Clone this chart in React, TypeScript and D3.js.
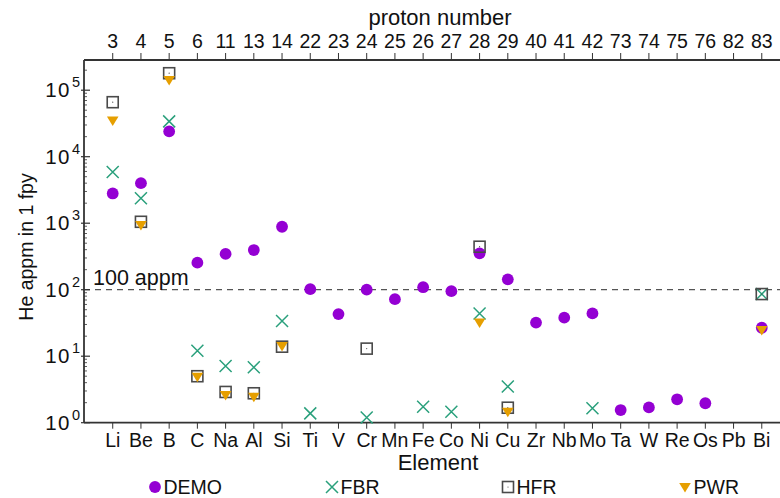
import React from "react";
import * as d3 from "d3";

const elements = ["Li","Be","B","C","Na","Al","Si","Ti","V","Cr","Mn","Fe","Co","Ni","Cu","Zr","Nb","Mo","Ta","W","Re","Os","Pb","Bi"];
const protonNumbers = ["3","4","5","6","11","13","14","22","23","24","25","26","27","28","29","40","41","42","73","74","75","76","82","83"];
const demo: (number | null)[] = [2800,4000,24000,255,345,395,885,102,43,100,72,109,95,352,143,32,38,44,1.55,1.7,2.25,1.96,null,26.8];
const fbr: (number | null)[] = [5900,2370,34000,12.1,7.1,6.8,33.8,1.38,null,1.2,null,1.74,1.46,44,3.5,null,null,1.65,null,null,null,null,null,86];
const hfr: (number | null)[] = [66000,1050,180000,5.0,2.9,2.77,13.9,null,null,13,null,null,null,443,1.68,null,null,null,null,null,null,null,null,86];
const pwr: (number | null)[] = [35000,940,142000,4.9,2.6,2.46,14.2,null,null,null,null,null,null,32,1.46,null,null,null,null,null,null,null,null,24.8];
const yDecades = [0,1,2,3,4,5];
const refValue = 100;
const legendNames = ["DEMO","FBR","HFR","PWR"];

const W = 780, H = 498;
const left = 84, top = 60, bottom = 422.7, right = 790;
const FONT = "'Liberation Sans', Arial, Helvetica, sans-serif";
const C_DEMO = "#9400D3", C_FBR = "#2AA07C", C_HFR = "#4a4a4a", C_PWR = "#E69F00";
const AX = "#333";

export default function App() {
  const x = d3.scaleLinear().domain([-1, elements.length]).range([left + 0.5, right]);
  const y = d3.scaleLog().domain([1, Math.pow(10, (bottom - top) / 66.5)]).range([bottom, top]);

  const minor: number[] = [];
  for (let d = 0; d < 6; d++) for (let k = 2; k <= 9; k++) {
    const v = k * Math.pow(10, d);
    if (y(v) >= top) minor.push(v);
  }

  const circle = (cx: number, cy: number, key: string) => <circle key={key} cx={cx} cy={cy} r={5.9} fill={C_DEMO} />;
  const cross = (cx: number, cy: number, key: string) => (
    <path key={key} d={`M${cx-6},${cy-6}L${cx+6},${cy+6}M${cx-6},${cy+6}L${cx+6},${cy-6}`} stroke={C_FBR} strokeWidth={1.5} fill="none" />
  );
  const square = (cx: number, cy: number, key: string) => (
    <g key={key}>
      <rect x={cx-5.5} y={cy-5.5} width={11} height={11} fill="none" stroke={C_HFR} strokeWidth={1.6} />
      <circle cx={cx} cy={cy} r={0.6} fill={C_HFR} />
    </g>
  );
  const tri = (cx: number, cy: number, key: string) => (
    <path key={key} d={`M${cx-5.8},${cy-4}L${cx+5.8},${cy-4}L${cx},${cy+5.5}Z`} fill={C_PWR} />
  );

  const series: [(number | null)[], (cx: number, cy: number, k: string) => React.ReactNode, string][] = [
    [demo, circle, "d"], [fbr, cross, "f"], [hfr, square, "h"], [pwr, tri, "p"],
  ];

  const legendX = [155, 332, 508, 685];
  const legendMarks = [circle, cross, square, tri];

  return (
    <svg width={W} height={H} style={{ position: "absolute", left: 0, top: 0, background: "#fff" }} fontFamily={FONT}>
      {/* reference line */}
      <line x1={left} x2={W} y1={y(refValue)} y2={y(refValue)} stroke="#555" strokeWidth={1.2} strokeDasharray="6,5" />
      <text x={93} y={y(refValue) - 5} fontSize={21.5} fill="#111">100 appm</text>

      {/* left axis */}
      <line x1={left} x2={left} y1={top} y2={bottom} stroke={AX} strokeWidth={1.8} />
      {yDecades.map(d => (
        <g key={"yt" + d}>
          <line x1={left - 3} x2={left + 6} y1={y(Math.pow(10, d))} y2={y(Math.pow(10, d))} stroke={AX} strokeWidth={1.2} />
          <text x={71} y={y(Math.pow(10, d)) + 7} fontSize={20.5} textAnchor="end" fill="#111" letterSpacing={1.5}>10</text>
          <text x={72} y={y(Math.pow(10, d)) - 3} fontSize={14.5} fill="#111">{d}</text>
        </g>
      ))}
      {minor.map((v, i) => (
        <line key={"ym" + i} x1={left} x2={left + 3} y1={y(v)} y2={y(v)} stroke={AX} strokeWidth={0.8} />
      ))}

      {/* bottom axis */}
      <line x1={left} x2={W} y1={bottom} y2={bottom} stroke={AX} strokeWidth={1.8} />
      {elements.map((e, i) => (
        <g key={"xb" + e}>
          <line x1={x(i)} x2={x(i)} y1={bottom} y2={bottom + 6} stroke={AX} strokeWidth={1} />
          <text x={x(i)} y={446.5} fontSize={19.5} textAnchor="middle" fill="#111">{e}</text>
        </g>
      ))}
      <text x={438} y={470} fontSize={22} textAnchor="middle" fill="#111">Element</text>

      {/* top axis */}
      <line x1={left} x2={W} y1={top} y2={top} stroke={AX} strokeWidth={1.8} />
      {protonNumbers.map((p, i) => (
        <g key={"xt" + i}>
          <line x1={x(i)} x2={x(i)} y1={top} y2={top - 7} stroke={AX} strokeWidth={1} />
          <text x={x(i)} y={48} fontSize={19.5} textAnchor="middle" fill="#111">{p}</text>
        </g>
      ))}
      <text x={440} y={25} fontSize={22} textAnchor="middle" fill="#111">proton number</text>

      {/* y label */}
      <text transform={`translate(33,247) rotate(-90)`} fontSize={19.5} textAnchor="middle" fill="#111">He appm in 1 fpy</text>

      {/* data */}
      {series.map(([vals, mark, k]) =>
        vals.map((v, i) => (v == null ? null : mark(x(i), y(v), k + i)))
      )}

      {/* legend */}
      {legendNames.map((n, i) => (
        <g key={"lg" + n}>
          {legendMarks[i](legendX[i], 487, "lm" + i)}
          <text x={legendX[i] + 8.5} y={494} fontSize={19.5} fill="#111">{n}</text>
        </g>
      ))}
    </svg>
  );
}
